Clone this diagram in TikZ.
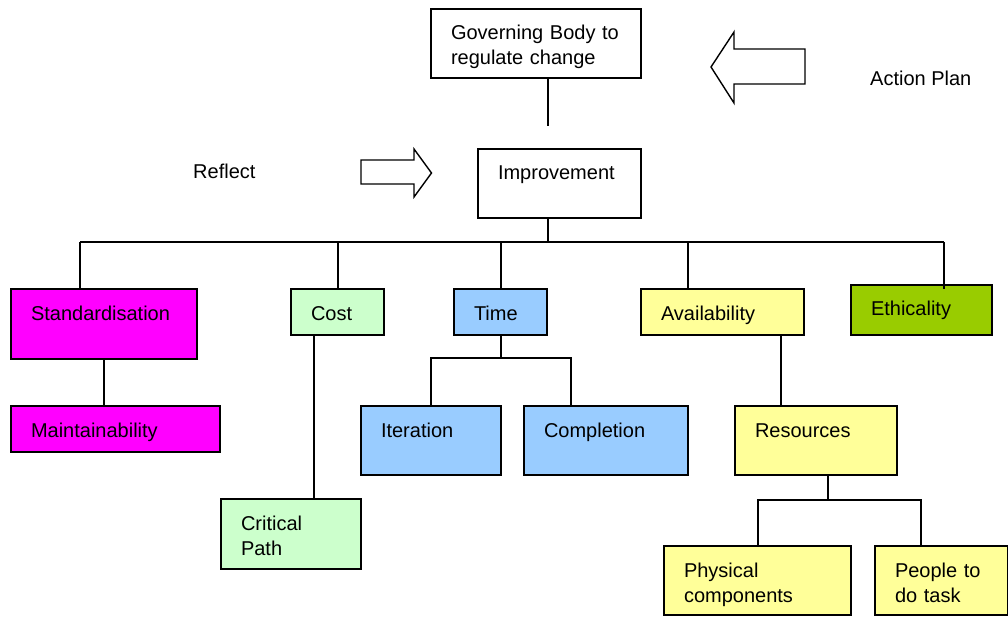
\documentclass[tikz,border=0pt]{standalone}
\usepackage{fontspec}
\setmainfont{Liberation Sans}
\usetikzlibrary{calc}
\definecolor{cmag}{HTML}{FF00FF}
\definecolor{cgreen}{HTML}{CCFFCC}
\definecolor{cblue}{HTML}{99CCFF}
\definecolor{cyel}{HTML}{FFFF99}
\definecolor{colive}{HTML}{99CC00}
\tikzset{
  box/.style n args={3}{draw=black, line width=1.8pt, fill=#1, anchor=north west,
    inner xsep=20pt, inner ysep=0pt, outer sep=0pt, text width=#2, text height=31pt,
    text depth=#3, align=left, font=\fontsize{20}{25}\selectfont},
  conn/.style={draw=black, line width=1.8pt},
  blockarrow/.style={draw=black, line width=1.4pt, fill=white, line join=miter},
  plain/.style={anchor=base west, inner sep=0pt, font=\fontsize{20}{25}\selectfont}
}
\begin{document}
\begin{tikzpicture}[x=1pt,y=-1pt]
\useasboundingbox (0,0) rectangle (1008,617);
% boxes
\node[box={white}{170pt}{38pt}] (gov) at (431,9) {Governing Body to\\regulate change};
\node[box={white}{123pt}{38pt}] (imp) at (478,149) {Improvement};
\node[box={cmag}{146pt}{39pt}] (std) at (11,289) {Standardisation};
\node[box={cmag}{169pt}{15pt}] (mnt) at (11,406) {Maintainability};
\node[box={cgreen}{53pt}{15pt}] (cost) at (291,289) {Cost};
\node[box={cblue}{53pt}{15pt}] (time) at (454,289) {Time};
\node[box={cyel}{123pt}{15pt}] (avail) at (641,289) {Availability};
\node[box={colive}{101pt}{19pt}] (eth) at (851,285) {Ethicality};
\node[box={cgreen}{100pt}{39pt}] (crit) at (221,499) {Critical\\Path};
\node[box={cblue}{100pt}{38pt}] (iter) at (361,406) {Iteration};
\node[box={cblue}{124pt}{38pt}] (comp) at (524,406) {Completion};
\node[box={cyel}{122pt}{38pt}] (res) at (735,406) {Resources};
\node[box={cyel}{147pt}{38pt}] (phys) at (664,546) {Physical\\components};
\node[box={cyel}{93pt}{38pt}] (ppl) at (875,546) {People to\\do task};
% free labels
\node[plain] (refl) at (193,179) {Reflect};
\node[plain] (act) at (870,86) {Action Plan};
% block arrows
\draw[blockarrow] (361,160) -- (414,160) -- (414,149) -- (431.5,173) -- (414,197) -- (414,184) -- (361,184) -- cycle;
\draw[blockarrow] (805,49) -- (734,49) -- (734,32) -- (711,67) -- (734,103) -- (734,84) -- (805,84) -- cycle;
% coordinates
\coordinate (gv) at (548,126);
\coordinate (bus) at (548,242);
\coordinate (b1) at (80,242);
\coordinate (b2) at (338,242);
\coordinate (b3) at (501,242);
\coordinate (b4) at (688,242);
\coordinate (b5) at (944,242);
\coordinate (cx) at (314,0);
\coordinate (tj) at (501,358);
\coordinate (tc) at (571,358);
\coordinate (ax) at (781,0);
\coordinate (rj) at (828,500);
\coordinate (rl) at (758,500);
\coordinate (rr) at (921,500);
% connectors
\draw[conn] (gov.south -| gv) -- (gv);
\draw[conn] (imp.south -| bus) -- (bus);
\draw[conn] (b1) -- (b5);
\draw[conn] (b1) -- (b1 |- std.north);
\draw[conn] (b2) -- (b2 |- cost.north);
\draw[conn] (b3) -- (b3 |- time.north);
\draw[conn] (b4) -- (b4 |- avail.north);
\draw[conn] (b5) -- ($(b5 |- eth.north)+(0,4)$);
\draw[conn] (std.south) -- (std.south |- mnt.north);
\draw[conn] (cost.south -| cx) -- (crit.north -| cx);
\draw[conn] (time.south -| tj) -- (tj);
\draw[conn] (iter.north) |- (tc) -- (tc |- comp.north);
\draw[conn] (avail.south -| ax) -- (res.north -| ax);
\draw[conn] (res.south -| rj) -- (rj);
\draw[conn] (phys.north -| rl) -- (rl) -- (rr) -- (rr |- ppl.north);
\end{tikzpicture}
\end{document}
